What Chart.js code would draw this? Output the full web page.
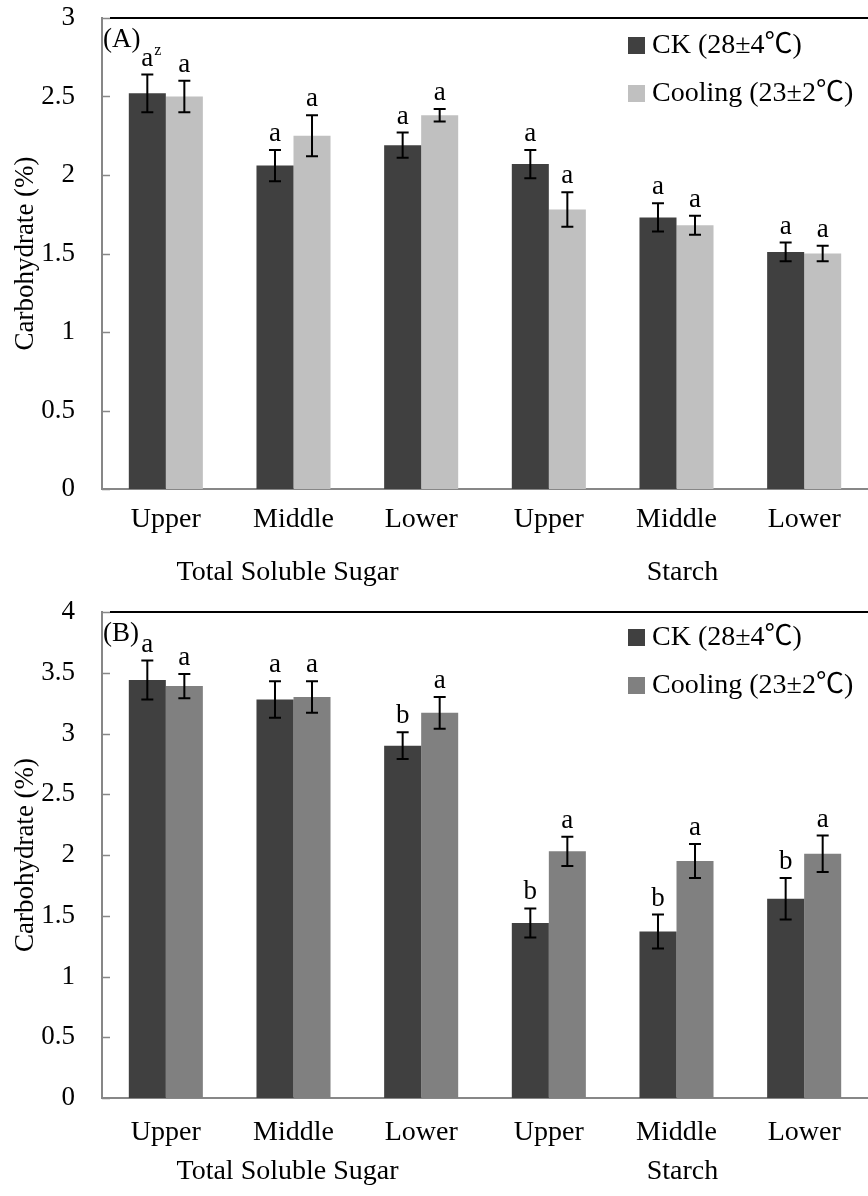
<!DOCTYPE html>
<html>
<head>
<meta charset="utf-8">
<script src="https://cdn.jsdelivr.net/npm/chart.js@4.4.1/dist/chart.umd.min.js"></script>
<style>
html,body{margin:0;padding:0;background:#fff;width:868px;height:1196px;overflow:hidden;}
.wrap{position:absolute;left:0;width:868px;}
</style>
</head>
<body>
<div class="wrap" style="top:0;height:600px"><canvas id="ca" width="868" height="600"></canvas></div>
<div class="wrap" style="top:600px;height:596px"><canvas id="cb" width="868" height="596"></canvas></div>
<script>
// ---- data ----
const categories = ['Upper','Middle','Lower','Upper','Middle','Lower'];
const groupNames = ['Total Soluble Sugar','Starch'];
const seriesNames = ['CK (28±4℃)','Cooling (23±2℃)'];

// Panel A
const ckA      = [2.52, 2.06, 2.19, 2.07, 1.73, 1.51];
const ckAErr   = [0.12, 0.10, 0.08, 0.09, 0.09, 0.06];
const coolA    = [2.50, 2.25, 2.38, 1.78, 1.68, 1.50];
const coolAErr = [0.10, 0.13, 0.04, 0.11, 0.06, 0.05];
const ckALetters   = ['a','a','a','a','a','a'];
const coolALetters = ['a','a','a','a','a','a'];
const yTicksA = [0, 0.5, 1, 1.5, 2, 2.5, 3];

// Panel B
const ckB      = [3.44, 3.28, 2.90, 1.44, 1.37, 1.64];
const ckBErr   = [0.16, 0.15, 0.11, 0.12, 0.14, 0.17];
const coolB    = [3.39, 3.30, 3.17, 2.03, 1.95, 2.01];
const coolBErr = [0.10, 0.13, 0.13, 0.12, 0.14, 0.15];
const ckBLetters   = ['a','a','b','b','b','b'];
const coolBLetters = ['a','a','a','a','a','a'];
const yTicksB = [0, 0.5, 1, 1.5, 2, 2.5, 3, 3.5, 4];

const FONT = "'Liberation Serif','Noto Sans CJK SC',serif";
const CK_COLOR = '#404040';
const AXIS_GRAY = '#878787';

const overlayPlugin = {
  id: 'overlay',
  afterDatasetsDraw(chart) {
    const o = chart.options.plugins.overlay;
    const ctx = chart.ctx;
    const ys = chart.scales.y, xs = chart.scales.x;
    const ca = chart.chartArea;
    ctx.save();
    // inner tick marks on y axis
    ctx.strokeStyle = AXIS_GRAY; ctx.lineWidth = 1.5;
    ys.ticks.forEach(t => {
      const y = Math.round(ys.getPixelForValue(t.value)) + 0.5;
      ctx.beginPath(); ctx.moveTo(ca.left, y); ctx.lineTo(ca.left + 8, y); ctx.stroke();
    });
    // top border line
    ctx.strokeStyle = '#000'; ctx.lineWidth = 2;
    ctx.beginPath(); ctx.moveTo(ca.left + 8, ca.top); ctx.lineTo(ca.right, ca.top); ctx.stroke();
    // error bars + letters
    chart.data.datasets.forEach((ds, di) => {
      const meta = chart.getDatasetMeta(di);
      meta.data.forEach((bar, i) => {
        const v = ds.data[i], e = ds.errors[i];
        const yt = ys.getPixelForValue(v + e), yb = ys.getPixelForValue(v - e);
        const x = bar.x;
        ctx.strokeStyle = '#000'; ctx.lineWidth = 2;
        ctx.beginPath();
        ctx.moveTo(x, yt); ctx.lineTo(x, yb);
        ctx.moveTo(x - 6, yt); ctx.lineTo(x + 6, yt);
        ctx.moveTo(x - 6, yb); ctx.lineTo(x + 6, yb);
        ctx.stroke();
        ctx.fillStyle = '#000';
        ctx.font = '27px ' + FONT;
        ctx.textAlign = 'center'; ctx.textBaseline = 'alphabetic';
        const ly = yt - 9;
        ctx.fillText(ds.letters[i], x, ly);
        if (o.superIndex === i && di === 0) {
          ctx.font = '16px ' + FONT;
          ctx.textAlign = 'left';
          ctx.fillText('z', x + 7, ly - 11);
        }
      });
    });
    // panel label
    ctx.font = '27px ' + FONT; ctx.fillStyle = '#000';
    ctx.textAlign = 'left'; ctx.textBaseline = 'middle';
    ctx.fillText(o.panel, ca.left + 1, ca.top + 22);
    // legend
    chart.data.datasets.forEach((ds, di) => {
      const cy = ca.top + o.legendOffset + di * 48;
      ctx.fillStyle = ds.backgroundColor;
      ctx.fillRect(ca.right - 240, cy - 8, 17, 17);
      ctx.fillStyle = '#000';
      ctx.font = '28px ' + FONT;
      ctx.textAlign = 'left'; ctx.textBaseline = 'middle';
      ctx.fillText(ds.label, ca.right - 216, cy + 1);
    });
    // group labels
    ctx.font = '28px ' + FONT; ctx.textAlign = 'center'; ctx.textBaseline = 'middle';
    const g1 = (xs.getPixelForValue(0) + xs.getPixelForValue(2)) / 2;
    const g2 = (xs.getPixelForValue(3) + xs.getPixelForValue(5)) / 2;
    ctx.fillText(groupNames[0], g1 - 6, ca.bottom + o.groupOffset);
    ctx.fillText(groupNames[1], g2 + 6, ca.bottom + o.groupOffset);
    ctx.restore();
  }
};

function makeChart(id, cfg) {
  const canvas = document.getElementById(id);
  return new Chart(canvas, {
    type: 'bar',
    data: {
      labels: categories,
      datasets: [
        { label: seriesNames[0], data: cfg.ck, errors: cfg.ckErr, letters: cfg.ckLetters,
          backgroundColor: CK_COLOR, borderWidth: 0 },
        { label: seriesNames[1], data: cfg.cool, errors: cfg.coolErr, letters: cfg.coolLetters,
          backgroundColor: cfg.coolColor, borderWidth: 0 }
      ]
    },
    options: {
      responsive: false,
      animation: false,
      layout: { padding: { top: cfg.top, left: 0, right: 0, bottom: 0 } },
      datasets: { bar: { categoryPercentage: 0.58, barPercentage: 1.0 } },
      plugins: {
        legend: { display: false },
        tooltip: { enabled: false },
        overlay: { panel: cfg.panel, superIndex: cfg.superIndex, legendOffset: cfg.legendOffset, groupOffset: cfg.groupOffset }
      },
      scales: {
        x: {
          grid: { display: false, drawTicks: false },
          border: { display: true, color: AXIS_GRAY, width: 2 },
          ticks: { color: '#000', font: { family: FONT, size: 28 }, padding: cfg.xPad, maxRotation: 0, autoSkip: false },
          afterFit: s => { s.height = cfg.xHeight; s.paddingLeft = 0; s.paddingRight = 0; }
        },
        y: {
          min: 0, max: cfg.yTicks[cfg.yTicks.length - 1],
          afterBuildTicks: s => { s.ticks = cfg.yTicks.map(v => ({ value: v })); },
          grid: { display: false, drawTicks: false },
          border: { display: true, color: AXIS_GRAY, width: 2 },
          ticks: { color: '#000', font: { family: FONT, size: 27 }, padding: 27, callback: v => String(v) },
          title: { display: true, text: 'Carbohydrate (%)', color: '#000', font: { family: FONT, size: 27 }, padding: { top: 10, bottom: 0 } },
          afterFit: s => { s.width = 102; s.paddingTop = 0; s.paddingBottom = 0; }
        }
      }
    },
    plugins: [overlayPlugin]
  });
}

makeChart('ca', {
  ck: ckA, ckErr: ckAErr, ckLetters: ckALetters,
  cool: coolA, coolErr: coolAErr, coolLetters: coolALetters,
  coolColor: '#c0c0c0', yTicks: yTicksA, panel: '(A)', superIndex: 0,
  top: 18, xHeight: 111, xPad: 14, legendOffset: 27, groupOffset: 84
});
makeChart('cb', {
  ck: ckB, ckErr: ckBErr, ckLetters: ckBLetters,
  cool: coolB, coolErr: coolBErr, coolLetters: coolBLetters,
  coolColor: '#808080', yTicks: yTicksB, panel: '(B)', superIndex: -1,
  top: 12, xHeight: 98, xPad: 18, legendOffset: 25, groupOffset: 74
});
</script>
</body>
</html>
